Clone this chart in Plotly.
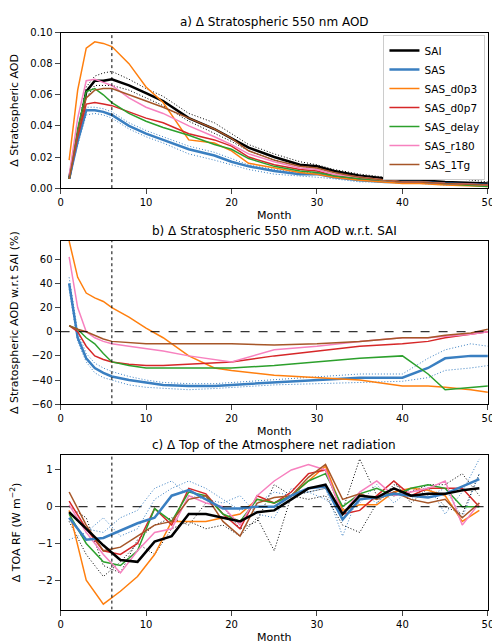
import plotly.graph_objects as go

names = ["SAI", "SAS", "SAS_d0p3", "SAS_d0p7", "SAS_delay", "SAS_r180", "SAS_1Tg"]
colors = ["black", "#3a7fc1", "#ff7f0e", "#d62728", "#2ca02c", "#f781bf", "#a65628"]
widths = [2.5, 2.5, 1.5, 1.5, 1.5, 1.5, 1.5]

# Panel a
xa = [1, 2, 3, 4, 5, 6, 8, 10, 12, 15, 18, 20, 22, 25, 28, 30, 32, 35, 38, 40, 42, 45, 50]
aod = {
 "SAI":      [0.006,0.035,0.062,0.069,0.069,0.070,0.066,0.061,0.056,0.045,0.038,0.032,0.026,0.020,0.015,0.014,0.011,0.008,0.006,0.005,0.005,0.004,0.003],
 "SAS":      [0.006,0.030,0.050,0.050,0.049,0.047,0.040,0.035,0.031,0.025,0.021,0.017,0.014,0.011,0.009,0.009,0.007,0.005,0.004,0.004,0.004,0.003,0.002],
 "SAS_d0p3": [0.018,0.063,0.090,0.094,0.093,0.091,0.080,0.065,0.055,0.031,0.029,0.024,0.016,0.013,0.010,0.009,0.007,0.005,0.004,0.003,0.003,0.002,0.001],
 "SAS_d0p7": [0.006,0.033,0.054,0.055,0.054,0.053,0.049,0.045,0.042,0.035,0.031,0.027,0.020,0.015,0.012,0.011,0.008,0.006,0.005,0.004,0.004,0.003,0.002],
 "SAS_delay":[0.006,0.038,0.062,0.064,0.060,0.055,0.048,0.043,0.039,0.034,0.028,0.025,0.019,0.014,0.011,0.010,0.008,0.006,0.005,0.004,0.004,0.003,0.001],
 "SAS_r180": [0.008,0.045,0.069,0.070,0.068,0.066,0.058,0.052,0.048,0.040,0.033,0.028,0.022,0.017,0.013,0.012,0.009,0.007,0.005,0.004,0.004,0.003,0.002],
 "SAS_1Tg":  [0.006,0.035,0.058,0.063,0.064,0.064,0.060,0.056,0.052,0.045,0.038,0.032,0.024,0.018,0.014,0.013,0.010,0.007,0.005,0.004,0.004,0.003,0.002],
}
aod_ens_sai = [
 [0.006,0.037,0.065,0.072,0.074,0.075,0.070,0.064,0.059,0.048,0.042,0.035,0.028,0.022,0.017,0.015,0.012,0.009,0.007,0.005,0.009,0.007,0.004],
 [0.006,0.033,0.058,0.066,0.066,0.066,0.063,0.058,0.053,0.043,0.035,0.030,0.024,0.018,0.014,0.013,0.010,0.007,0.005,0.004,0.004,0.003,0.002],
]
aod_ens_sas = [
 [0.006,0.032,0.052,0.052,0.051,0.049,0.042,0.037,0.033,0.027,0.023,0.019,0.015,0.012,0.010,0.010,0.008,0.006,0.005,0.004,0.004,0.004,0.003],
 [0.006,0.028,0.047,0.048,0.047,0.045,0.038,0.033,0.029,0.022,0.018,0.015,0.012,0.009,0.008,0.007,0.006,0.004,0.004,0.003,0.003,0.002,0.002],
]

# Panel b
xb = [1, 2, 3, 4, 5, 6, 8, 10, 12, 15, 18, 20, 25, 30, 35, 40, 43, 45, 48, 50]
rel = {
 "SAS":      [40,-5,-22,-30,-34,-37,-40,-42,-44,-45,-45,-44,-42,-40,-38,-38,-30,-22,-20,-20],
 "SAS_d0p3": [75,45,32,28,25,20,12,3,-5,-20,-30,-32,-36,-38,-40,-45,-45,-46,-48,-50],
 "SAS_d0p7": [5,0,-12,-20,-23,-25,-27,-28,-28,-27,-26,-25,-20,-16,-12,-10,-8,-5,-2,0],
 "SAS_delay":[5,2,-5,-10,-18,-25,-28,-30,-30,-30,-30,-30,-28,-25,-22,-20,-35,-48,-46,-45],
 "SAS_r180": [62,20,0,-5,-8,-10,-12,-14,-16,-20,-23,-25,-15,-12,-8,-5,-5,-4,-2,0],
 "SAS_1Tg":  [5,2,0,-3,-6,-8,-9,-10,-10,-10,-10,-10,-11,-10,-8,-5,-5,-3,-1,2],
}
rel_ens_sas = [
 [45,0,-18,-26,-30,-33,-37,-40,-42,-43,-43,-42,-40,-37,-35,-35,-22,-15,-10,-12],
 [35,-8,-25,-34,-38,-40,-44,-46,-47,-48,-47,-46,-44,-43,-42,-41,-38,-32,-30,-28],
]

# Panel c
xc = list(range(1, 51, 2))
toa = {
 "SAI":      [-0.15,-0.6,-1.05,-1.45,-1.5,-0.95,-0.8,-0.2,-0.2,-0.3,-0.4,-0.15,-0.1,0.2,0.5,0.6,-0.2,0.3,0.25,0.5,0.3,0.35,0.35,0.45,0.5],
 "SAS":      [-0.3,-0.9,-0.85,-0.65,-0.45,-0.3,0.3,0.45,0.2,-0.05,-0.05,0.0,0.0,0.3,0.5,0.55,-0.35,0.2,0.25,0.35,0.3,0.25,0.35,0.55,0.75],
 "SAS_d0p3": [-0.1,-2.0,-2.65,-2.3,-1.9,-1.3,-0.4,-0.4,-0.4,-0.3,-0.2,0.2,0.1,0.3,0.7,1.1,-0.1,0.05,0.05,0.4,0.5,0.45,0.3,-0.4,-0.1],
 "SAS_d0p7": [0.15,-0.6,-1.2,-1.3,-1.0,-0.05,-0.5,0.5,0.35,-0.2,-0.6,0.3,0.1,0.4,0.9,1.0,-0.2,-0.1,0.3,0.7,0.3,0.5,0.5,0.5,0.0],
 "SAS_delay":[-0.2,-1.0,-1.5,-1.6,-1.2,-0.05,-0.4,0.4,0.3,-0.2,-0.4,0.2,0.1,0.3,0.7,0.9,0.0,0.35,0.5,0.3,0.5,0.6,0.5,0.0,0.0],
 "SAS_r180": [0.05,-0.7,-1.3,-1.8,-1.2,-0.7,-0.6,0.3,0.1,0.0,-0.5,0.3,0.7,1.0,1.15,1.0,-0.2,0.4,0.7,0.3,0.4,0.5,0.7,-0.5,0.1],
 "SAS_1Tg":  [0.4,-0.5,-1.2,-1.1,-0.8,-0.5,-0.4,0.2,0.3,-0.4,-0.8,0.1,0.25,0.3,0.8,1.15,0.2,0.35,0.2,0.4,0.2,0.1,0.2,-0.3,0.1],
}
toa_ens = [
 ("SAI", [-0.4,-1.3,-1.9,-1.5,-1.0,-1.3,-0.6,-0.4,-0.6,-0.5,-0.8,-0.3,-1.2,0.3,0.4,0.5,-0.1,1.3,0.3,0.7,0.1,0.5,0.0,-0.2,0.9]),
 ("SAI", [0.0,-0.3,-1.6,-1.8,-0.9,-0.5,-0.3,-0.5,0.1,0.0,-0.6,-0.4,0.6,0.3,0.2,0.3,-0.5,-0.7,0.1,0.6,0.4,0.6,0.6,0.9,0.3]),
 ("SAS", [-0.9,-0.7,-0.3,-0.8,-0.6,0.2,0.5,0.7,0.5,0.2,-0.1,0.1,0.4,0.3,0.4,0.5,-0.8,0.4,0.1,0.5,0.2,0.6,-0.2,0.4,1.3]),
 ("SAS", [-0.2,-0.6,-0.7,-0.3,-0.1,0.5,0.7,0.3,0.2,0.1,0.3,-0.2,-0.3,0.5,0.4,0.2,-0.2,0.1,0.6,0.1,0.5,0.3,0.5,-0.3,0.9]),
]

fig = go.Figure()
def add(x, y, name, color, width, ax, show, dash="solid"):
    fig.add_trace(go.Scatter(x=x, y=y, name=name, mode="lines", xaxis="x"+ax, yaxis="y"+ax,
                             line=dict(color=color, width=width, dash=dash), showlegend=show,
                             legendgroup=name))
lc = dict(zip(names, colors))
lw = dict(zip(names, widths))
ens_col = {"SAI": "black", "SAS": "#3a7fc1"}
DOT = "1px,2px"
for e in aod_ens_sai: add(xa, e, "SAI", "black", 1, "", False, DOT)
for e in aod_ens_sas: add(xa, e, "SAS", "#3a7fc1", 1, "", False, DOT)
for n in names: add(xa, aod[n], n, lc[n], lw[n], "", True)
for e in rel_ens_sas: add(xb, e, "SAS", "#3a7fc1", 1, "2", False, DOT)
for n in names[1:]: add(xb, rel[n], n, lc[n], lw[n], "2", False)
for g, e in toa_ens: add(xc, e, g, ens_col[g], 1, "3", False, DOT)
for n in names[2:] + ["SAS", "SAI"]: add(xc, toa[n], n, lc[n], lw[n], "3", False)

ax = dict(range=[0, 50], showline=True, mirror=True, linecolor="black", ticks="outside",
          showgrid=False, zeroline=False, tickvals=[0, 10, 20, 30, 40, 50],
          title=dict(text="Month", standoff=4, font=dict(size=11)))
yb = dict(showline=True, mirror=True, linecolor="black", ticks="outside", showgrid=False, zeroline=False)
shapes = []
for k, (y0, y1) in zip(["", "2", "3"], [(0, 0.1), (-60, 75), (-2.8, 1.4)]):
    shapes.append(dict(type="line", xref="x"+k, yref="y"+k, x0=6, x1=6, y0=y0, y1=y1,
                       line=dict(color="black", width=1, dash="dot")))
for k in ["2", "3"]:
    shapes.append(dict(type="line", xref="x"+k, yref="y"+k, x0=0, x1=50, y0=0, y1=0,
                       line=dict(color="black", width=1, dash="dash")))
dom = [0.094, 0.975]
fig.update_layout(
    width=500, height=641, margin=dict(l=0, r=8, t=0, b=0),
    plot_bgcolor="white", paper_bgcolor="white",
    font=dict(family="DejaVu Sans", size=10, color="black"),
    xaxis=dict(ax, domain=dom, anchor="y"),
    yaxis=dict(yb, domain=[0.722, 0.969], range=[0, 0.1], tickformat=".2f", dtick=0.02,
               title=dict(text="Δ Stratospheric AOD", font=dict(size=11))),
    xaxis2=dict(ax, domain=dom, anchor="y2"),
    yaxis2=dict(yb, domain=[0.379, 0.638], range=[-60, 75], dtick=20,
                title=dict(text="Δ Stratospheric AOD w.r.t SAI (%)", font=dict(size=11))),
    xaxis3=dict(ax, domain=dom, anchor="y3"),
    yaxis3=dict(yb, domain=[0.053, 0.298], range=[-2.8, 1.4], dtick=1,
                title=dict(text="Δ TOA RF (W m<sup>−2</sup>)", font=dict(size=11))),
    legend=dict(x=0.97, y=0.965, xanchor="right", yanchor="top", bordercolor="#cccccc",
                borderwidth=1, font=dict(size=10.5), tracegroupgap=0, bgcolor="white"),
    shapes=shapes,
    annotations=[
        dict(text=t, x=0.535, y=y, xref="paper", yref="paper", showarrow=False,
             yanchor="bottom", font=dict(size=12))
        for t, y in [("a) Δ Stratospheric 550 nm AOD", 0.971),
                     ("b) Δ Stratospheric 550 nm AOD w.r.t. SAI", 0.640),
                     ("c) Δ Top of the Atmosphere net radiation", 0.300)]],
)
fig.write_html("out.html")
